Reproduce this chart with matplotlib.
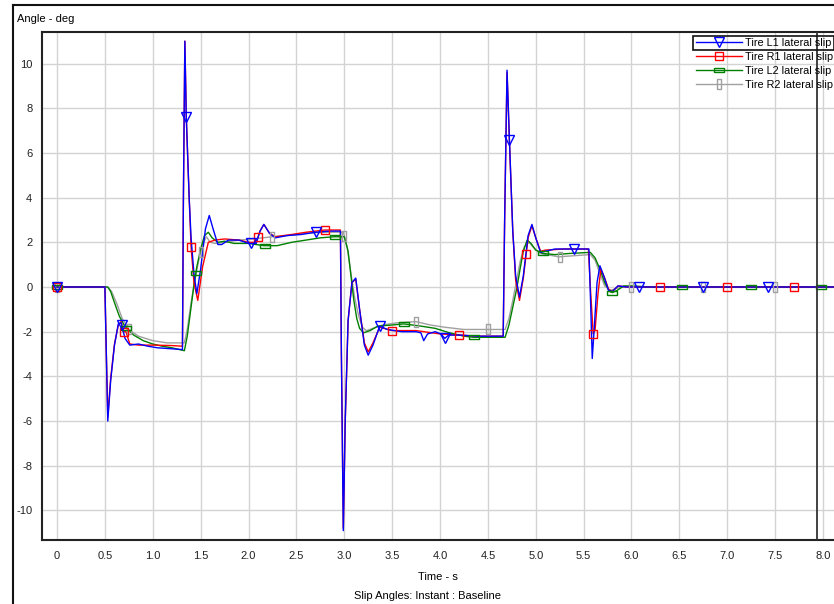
import numpy as np
import matplotlib
matplotlib.use("Agg")
import matplotlib.pyplot as plt
from matplotlib.patches import Rectangle
from matplotlib.lines import Line2D

plt.rcParams['font.family'] = ['Liberation Sans', 'DejaVu Sans']
plt.rcParams['axes.unicode_minus'] = False

# slip angle traces (time s, angle deg)
t_l1 = [0, 0.50, 0.515, 0.53, 0.56, 0.60, 0.64, 0.67, 0.71, 0.76, 0.85, 0.95, 1.05, 1.15, 1.25,
        1.31, 1.32, 1.335, 1.35, 1.38, 1.40, 1.43, 1.46, 1.50, 1.55, 1.59, 1.63, 1.68, 1.72, 1.79,
        1.90, 2.00, 2.08, 2.12, 2.16, 2.22, 2.28, 2.40, 2.55, 2.70, 2.85, 2.96, 2.97, 2.99, 3.01,
        3.04, 3.08, 3.12, 3.16, 3.21, 3.25, 3.30, 3.37, 3.45, 3.60, 3.75, 3.80, 3.83, 3.87, 3.95,
        4.01, 4.05, 4.09, 4.20, 4.40, 4.66, 4.675, 4.70, 4.725, 4.76, 4.79, 4.83, 4.87, 4.92, 4.96,
        5.00, 5.05, 5.10, 5.20, 5.35, 5.50, 5.555, 5.575, 5.59, 5.61, 5.64, 5.67, 5.71, 5.76, 5.80,
        5.86, 5.95, 6.10, 8.11]
a_l1 = [0, 0, -3.0, -6.0, -4.2, -2.6, -1.65, -1.6, -2.3, -2.6, -2.55, -2.65, -2.72, -2.75, -2.78,
        -2.8, 4.0, 11.0, 7.6, 4.0, 2.2, 0.6, -0.3, 0.8, 2.6, 3.2, 2.6, 1.9, 1.9, 2.1,
        2.1, 1.95, 1.95, 2.5, 2.8, 2.4, 2.2, 2.3, 2.35, 2.45, 2.5, 2.5, -3.0, -10.9, -6.0,
        -1.5, 0.2, 0.4, -1.0, -2.6, -3.05, -2.6, -1.75, -1.9, -2.0, -2.0, -2.05, -2.4, -2.1, -2.0,
        -2.1, -2.3, -2.15, -2.15, -2.2, -2.2, 3.0, 9.7, 6.6, 2.5, 0.5, -0.45, 0.5, 2.3, 2.8,
        2.2, 1.55, 1.6, 1.7, 1.7, 1.7, 1.7, -1.0, -3.2, -1.9, 0.2, 0.95, 0.5, -0.15, -0.2,
        0.05, 0.0, 0.0, 0.0]

t_r1 = [0, 0.50, 0.515, 0.53, 0.56, 0.60, 0.64, 0.67, 0.69, 0.72, 0.76, 0.85, 1.0, 1.2, 1.31,
        1.32, 1.335, 1.35, 1.38, 1.40, 1.43, 1.47, 1.52, 1.58, 1.65, 1.75, 1.90, 2.00, 2.08, 2.12,
        2.16, 2.22, 2.28, 2.45, 2.60, 2.80, 2.96, 2.97, 2.99, 3.01, 3.04, 3.08, 3.12, 3.16, 3.21,
        3.25, 3.30, 3.37, 3.50, 3.75, 4.00, 4.19, 4.40, 4.66, 4.675, 4.70, 4.725, 4.76, 4.79, 4.83,
        4.87, 4.92, 4.96, 5.00, 5.05, 5.10, 5.30, 5.55, 5.57, 5.60, 5.62, 5.65, 5.68, 5.72, 5.76,
        5.80, 5.86, 5.95, 6.10, 8.11]
a_r1 = [0, 0, -3.0, -5.8, -4.1, -2.55, -1.7, -1.55, -2.0, -2.0, -2.55, -2.6, -2.6, -2.62, -2.65,
        4.0, 11.0, 7.6, 4.0, 1.8, 0.2, -0.6, 0.9, 2.0, 2.1, 2.15, 2.1, 2.0, 2.0, 2.5,
        2.8, 2.4, 2.25, 2.35, 2.45, 2.55, 2.55, -3.0, -10.8, -6.0, -1.5, 0.2, 0.35, -1.0, -2.5,
        -2.9, -2.5, -1.8, -1.95, -1.95, -2.1, -2.15, -2.2, -2.2, 3.0, 9.6, 6.5, 2.5, 0.3, -0.6,
        0.4, 2.2, 2.75, 2.2, 1.6, 1.65, 1.7, 1.7, 0.0, -2.1, -1.9, -0.3, 0.8, 0.4, -0.1,
        -0.2, 0.05, 0.0, 0.0, 0.0]

t_l2 = [0, 0.53, 0.56, 0.60, 0.65, 0.70, 0.74, 0.80, 0.90, 1.00, 1.10, 1.20, 1.33, 1.36, 1.40,
        1.43, 1.46, 1.50, 1.54, 1.58, 1.62, 1.68, 1.75, 1.85, 2.00, 2.16, 2.30, 2.45, 2.60, 2.75,
        2.90, 3.00, 3.04, 3.07, 3.10, 3.13, 3.16, 3.20, 3.27, 3.35, 3.50, 3.62, 3.80, 3.95, 4.10,
        4.25, 4.35, 4.68, 4.72, 4.76, 4.80, 4.84, 4.87, 4.91, 4.95, 5.00, 5.075, 5.20, 5.35, 5.57,
        5.62, 5.67, 5.72, 5.77, 5.80, 5.85, 5.92, 6.00, 6.20, 8.11]
a_l2 = [0, 0, -0.2, -0.7, -1.3, -1.7, -1.9, -2.15, -2.4, -2.55, -2.65, -2.72, -2.85, -2.2, -0.9,
        0.1, 0.9, 1.7, 2.3, 2.45, 2.2, 2.0, 2.05, 1.95, 1.95, 1.85, 1.85, 2.0, 2.1, 2.2,
        2.25, 2.25, 1.6, 0.5, -0.6, -1.4, -1.85, -2.05, -1.95, -1.75, -1.7, -1.65, -1.75, -1.85, -2.05,
        -2.2, -2.25, -2.25, -1.7, -0.9, -0.1, 0.9, 1.6, 2.1, 1.95, 1.65, 1.5, 1.45, 1.5, 1.55,
        1.3, 0.8, 0.2, -0.2, -0.25, -0.15, 0.05, 0.05, 0.0, 0.0]

t_r2 = [0, 0.53, 0.57, 0.62, 0.68, 0.75, 0.85, 1.00, 1.15, 1.33, 1.36, 1.40, 1.44, 1.48, 1.52,
        1.56, 1.60, 1.65, 1.75, 1.90, 2.05, 2.25, 2.40, 2.60, 2.80, 2.99, 3.03, 3.07, 3.11, 3.15,
        3.19, 3.23, 3.30, 3.40, 3.55, 3.75, 3.90, 4.05, 4.25, 4.50, 4.68, 4.72, 4.76, 4.80, 4.84,
        4.88, 4.93, 4.98, 5.05, 5.24, 5.40, 5.57, 5.62, 5.67, 5.72, 5.78, 5.85, 5.92, 6.00, 8.11]
a_r2 = [0, 0, -0.2, -0.7, -1.4, -1.9, -2.2, -2.4, -2.5, -2.5, -1.9, -0.7, 0.3, 1.2, 1.9,
        2.25, 2.0, 1.95, 2.0, 2.1, 2.15, 2.25, 2.3, 2.4, 2.45, 2.45, 1.8, 0.6, -0.5, -1.3,
        -1.8, -1.95, -1.85, -1.7, -1.6, -1.55, -1.7, -1.8, -1.9, -1.9, -1.9, -1.4, -0.6, 0.3, 1.2,
        1.8, 2.0, 1.75, 1.5, 1.35, 1.4, 1.45, 1.2, 0.6, 0.05, -0.15, -0.05, 0.0, 0.0, 0.0]

cursor_t = 7.94

x_ticks = np.arange(0, 8.01, 0.5)
x_ticklabels = ["0"] + [f"{v:.1f}" for v in x_ticks[1:]]
y_ticks = np.arange(-10, 11, 2)

flat_box = [(-1, -0.5), (1, -0.5), (1, 0.5), (-1, 0.5), (-1, -0.5)]
tall_box = [(-0.5, -1), (0.5, -1), (0.5, 1), (-0.5, 1), (-0.5, -1)]

# drawn back to front: time, angle, label, colour, marker, marker size, marker spacing
series = [
    (t_r2, a_r2, "Tire R2 lateral slip", "#a0a0a0", tall_box, 6.5, 0.75),
    (t_l2, a_l2, "Tire L2 lateral slip", "#008000", flat_box, 6.5, 0.725),
    (t_r1, a_r1, "Tire R1 lateral slip", "#ff0000", "s", 5.8, 0.70),
    (t_l1, a_l1, "Tire L1 lateral slip", "#0000ff", "v", 6.5, 0.675),
]

W, H = 834, 604
fig = plt.figure(figsize=(W / 100, H / 100), dpi=100)
ax = fig.add_axes([42 / W, 1 - 540 / H, (W - 42) / W, (540 - 32) / H])

handles, labels = [], []
for t, a, lab, col, mk, ms, step in series:
    ax.plot(t, a, color=col, lw=1.0, zorder=3)
    tm = np.arange(0, 8.0, step)
    ax.plot(tm, np.interp(tm, t, a), ls="none", marker=mk, ms=ms, mfc="none",
            mec=col, mew=1.0, zorder=4)
    handles.append(Line2D([], [], color=col, lw=1.0, marker=mk, ms=ms, mfc="none", mec=col))
    labels.append(lab)

ax.axvline(cursor_t, color="#333333", lw=1.3, zorder=5)

ax.set_xlim(-0.157, 8.115)
ax.set_ylim(-11.32, 11.41)
ax.set_xticks(x_ticks)
ax.set_xticklabels(x_ticklabels)
ax.set_yticks(y_ticks)
ax.tick_params(length=0, labelsize=8, colors="#222222")
ax.tick_params(axis="x", pad=8)
ax.tick_params(axis="y", pad=7)
ax.grid(True, color="#d3d3d3", lw=1.0, zorder=0)
for side in ("left", "bottom", "top"):
    ax.spines[side].set_linewidth(1.5)
    ax.spines[side].set_color("#222222")
ax.spines["right"].set_visible(False)

fig.text(17 / W, 1 - 19 / H, "Angle - deg", fontsize=8, va="center", ha="left")
fig.text(438 / W, 1 - 577 / H, "Time - s", fontsize=8, va="center", ha="center")
fig.text(428 / W, 1 - 596 / H, "Slip Angles: Instant : Baseline", fontsize=8,
         va="center", ha="center")

leg = fig.legend(handles[::-1], labels[::-1],
                 loc="upper left", bbox_to_anchor=(695 / W, 1 - 37 / H), frameon=False,
                 fontsize=7.8, handlelength=4.3, handletextpad=0.3, labelspacing=0.38,
                 borderaxespad=0, borderpad=0.05)

# selection box round the first legend entry
fig.patches.append(Rectangle((693 / W, 1 - 50 / H), (W - 693) / W, 14 / H, fill=False,
                             ec="#111111", lw=1.2, transform=fig.transFigure, figure=fig))

# outer panel frame
fig.add_artist(Line2D([13 / W, 13 / W], [0, 1 - 5 / H], color="#111111", lw=1.5))
fig.add_artist(Line2D([13 / W, 1], [1 - 5 / H, 1 - 5 / H], color="#111111", lw=1.5))

fig.savefig("out.png", dpi=100)
